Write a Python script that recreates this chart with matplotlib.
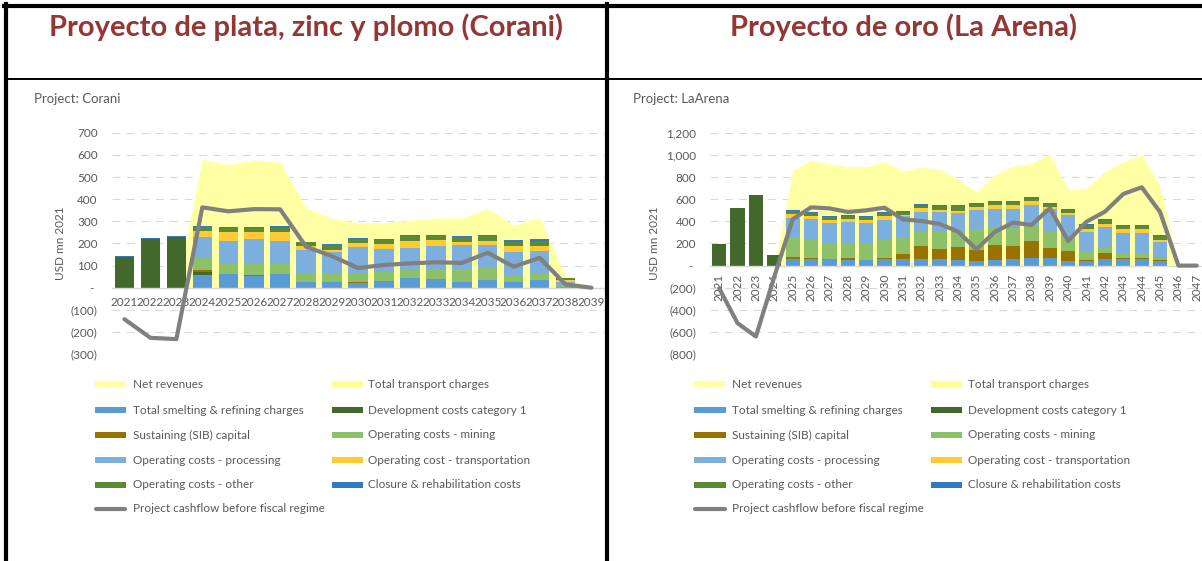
import numpy as np
import matplotlib
matplotlib.use("Agg")
import matplotlib.pyplot as plt
from matplotlib.patches import Rectangle
from matplotlib.lines import Line2D

plt.rcParams['font.family'] = ['Lato', 'DejaVu Sans']

W, H = 1202, 561
GREY_TXT = '#595959'

# ---------------- data: Corani (USD mn 2021) ----------------
corani_years = list(range(2021, 2040))
corani_net_revenues = [0, 0, 0, 580, 556, 577, 566, 361, 313, 294, 292, 305, 315, 315, 358, 282, 318, 50, 0]
corani_transport_charges = [0, 0, 0, 0, 0, 0, 0, 0, 0, 0, 0, 0, 0, 0, 0, 0, 0, 0, 0]
corani_smelting = [0, 0, 0, 57, 60, 55, 62, 28, 25, 20, 30, 45, 38, 28, 35, 28, 35, 5, 0]
corani_development = [140, 222, 230, 12, 0, 0, 0, 0, 0, 0, 0, 0, 0, 0, 0, 0, 0, 0, 0]
corani_sustaining = [0, 0, 0, 11, 0, 3, 0, 0, 0, 5, 0, 0, 0, 0, 0, 0, 0, 0, 0]
corani_mining = [0, 0, 0, 55, 50, 52, 48, 37, 35, 40, 42, 35, 45, 57, 57, 30, 27, 5, 0]
corani_processing = [0, 0, 0, 92, 101, 110, 103, 107, 100, 120, 104, 100, 105, 108, 100, 104, 103, 15, 0]
corani_transportation = [0, 0, 0, 30, 39, 33, 40, 16, 12, 15, 20, 30, 27, 14, 21, 25, 25, 10, 0]
corani_other = [0, 0, 0, 16, 21, 17, 19, 17, 23, 20, 20, 22, 17, 21, 22, 18, 20, 7, 0]
corani_closure = [4, 4, 4, 6, 3, 5, 6, 3, 3, 3, 3, 5, 5, 5, 5, 10, 12, 4, 0]
corani_cashflow = [-142, -226, -232, 363, 345, 355, 354, 185, 143, 89, 103, 110, 115, 112, 158, 95, 135, 15, 0]
corani_yticks = [-300, -200, -100, 0, 100, 200, 300, 400, 500, 600, 700]

# ---------------- data: La Arena (USD mn 2021) ----------------
arena_years = list(range(2021, 2048))
arena_net_revenues = [0, 0, 0, 0, 863, 954, 917, 893, 893, 938, 854, 887, 869, 779, 668, 818, 899, 923,
                      1008, 683, 698, 848, 938, 999, 720, 0, 0]
arena_transport_charges = [0, 0, 0, 0, 0, 0, 0, 0, 0, 0, 0, 0, 0, 0, 0, 0, 0, 0, 0, 0, 0, 0, 0, 0, 0, 0, 0]
arena_smelting = [0, 0, 0, 0, 57, 57, 57, 54, 51, 57, 57, 57, 60, 51, 42, 54, 57, 66, 72, 45, 45, 57, 60, 60, 45, 0, 0]
arena_development = [198, 517, 635, 93, 0, 0, 0, 0, 0, 0, 0, 0, 0, 0, 0, 0, 0, 0, 0, 0, 0, 0, 0, 0, 0, 0, 0]
arena_sustaining = [0, 0, 0, 0, 24, 9, 6, 12, 0, 15, 45, 120, 90, 117, 103, 131, 121, 152, 85, 85, 9, 57, 6, 12, 9, 0, 0]
arena_mining = [0, 0, 0, 0, 175, 169, 133, 139, 145, 160, 154, 130, 155, 132, 185, 155, 162, 152, 150, 120,
                76, 51, 39, 38, 12, 0, 0]
arena_processing = [0, 0, 0, 0, 171, 183, 189, 186, 186, 180, 192, 177, 179, 175, 175, 175, 175, 180, 201, 205,
                    175, 180, 185, 180, 144, 0, 0]
arena_transportation = [0, 0, 0, 0, 39, 27, 27, 27, 27, 33, 12, 33, 21, 21, 25, 33, 33, 33, 19, 23, 25, 33, 40, 38, 25, 0, 0]
arena_other = [0, 0, 0, 0, 24, 30, 24, 27, 27, 27, 27, 24, 30, 39, 30, 27, 27, 27, 33, 27, 35, 32, 30, 32, 30, 0, 0]
arena_closure = [0, 0, 0, 0, 12, 9, 12, 10, 12, 9, 9, 15, 15, 10, 8, 8, 8, 10, 8, 10, 10, 8, 8, 8, 10, 0, 0]
arena_cashflow = [-205, -520, -640, -100, 418, 526, 517, 484, 499, 523, 418, 403, 376, 307, 147, 304, 388, 367,
                  517, 223, 397, 487, 647, 707, 484, 0, 0]
arena_yticks = [-800, -600, -400, -200, 0, 200, 400, 600, 800, 1000, 1200]

# legend labels (Excel row-major order) and colours
labels = ['Net revenues', 'Total transport charges', 'Total smelting & refining charges',
          'Development costs category 1', 'Sustaining (SIB) capital', 'Operating costs - mining',
          'Operating costs - processing', 'Operating cost - transportation', 'Operating costs - other',
          'Closure & rehabilitation costs', 'Project cashflow before fiscal regime']
colors = ['#FFFFA3', '#FFFF8F', '#5B9BD5', '#43682B', '#997300', '#8DC169',
          '#7DAFDE', '#FFCA33', '#5A8A38', '#3479BF', '#808080']


def fx(px):
    return px / W


def fy(py):
    return 1 - py / H


def fmt(v):
    if v == 0:
        return '- '
    if v < 0:
        return '({:,})'.format(-v)
    return '{:,}'.format(v)


def panel(fig, rect_px, years, net, transp, stacks, cashflow, yticks, width, rotate, pad):
    x0, y0, x1, y1 = rect_px
    ax = fig.add_axes([fx(x0), fy(y1), fx(x1 - x0), (y1 - y0) / H])
    # move the category axis to y=0 first (this resets the ticks)
    for s in ['top', 'right', 'left']:
        ax.spines[s].set_visible(False)
    ax.spines['bottom'].set_position(('data', 0))
    ax.spines['bottom'].set_color('#D9D9D9')
    ax.spines['bottom'].set_linewidth(1.0)
    ax.spines['bottom'].set_zorder(2.5)

    x = np.arange(len(years))
    net = np.array(net, float)
    ax.fill_between(x, 0, net, color=colors[0], lw=0, zorder=1)
    ax.fill_between(x, net, net + np.array(transp, float), color=colors[1], lw=0, zorder=1)
    bottom = np.zeros(len(years))
    for vals, c in zip(stacks, colors[2:10]):
        vals = np.array(vals, float)
        ax.bar(x, vals, width, bottom=bottom, color=c, lw=0, zorder=2)
        bottom += vals
    ax.plot(x, cashflow, color=colors[10], lw=3.0, zorder=3,
            solid_joinstyle='round', solid_capstyle='round')
    ax.set_xlim(-0.5, len(years) - 0.5)
    ax.set_ylim(yticks[0], yticks[-1])
    ax.set_yticks(yticks)
    ax.set_yticklabels([fmt(v) for v in yticks])
    ax.set_xticks(x)
    ax.set_xticklabels([str(y) for y in years])
    ax.tick_params(axis='both', length=0, colors=GREY_TXT, labelsize=8.5)
    ax.tick_params(axis='y', pad=10)
    ax.tick_params(axis='x', pad=pad, labelrotation=90 if rotate else 0)
    ax.yaxis.grid(True, color='#D9D9D9', lw=0.8, linestyle=(0, (7, 6)))
    ax.set_axisbelow(True)
    ax.patch.set_alpha(0)
    return ax


def legend(fig, col_px):
    rows = [384, 410, 435, 460, 485, 509]
    for i, (lab, c) in enumerate(zip(labels, colors)):
        r, k = divmod(i, 2)
        p0, p1, t = col_px[k]
        if i == 10:
            fig.add_artist(Line2D([fx(p0 + 1), fx(p1 - 1)], [fy(rows[r])] * 2, color=c, lw=3.0,
                                  solid_capstyle='round', transform=fig.transFigure))
        else:
            fig.add_artist(Rectangle((fx(p0), fy(rows[r] + 3.4)), fx(p1 - p0), 6.8 / H,
                                     color=c, lw=0, transform=fig.transFigure))
        fig.text(fx(t), fy(rows[r]), lab, fontsize=8.5, color=GREY_TXT, va='center', ha='left')


fig = plt.figure(figsize=(W / 100, H / 100), dpi=100)

panel(fig, (111.5, 132.7, 604.5, 354.2), corani_years, corani_net_revenues, corani_transport_charges,
      [corani_smelting, corani_development, corani_sustaining, corani_mining, corani_processing,
       corani_transportation, corani_other, corani_closure],
      corani_cashflow, corani_yticks, 0.75, False, 7)
panel(fig, (710, 132.7, 1206, 354.2), arena_years, arena_net_revenues, arena_transport_charges,
      [arena_smelting, arena_development, arena_sustaining, arena_mining, arena_processing,
       arena_transportation, arena_other, arena_closure],
      arena_cashflow, arena_yticks, 0.78, True, 6)

legend(fig, [(95, 126, 133), (332, 363, 368)])
legend(fig, [(694, 726, 732), (931, 962, 968)])

# titles and captions
fig.text(fx(306), fy(36), 'Proyecto de plata, zinc y plomo (Corani)', fontsize=21, fontweight='bold',
         color='#943634', ha='center', va='baseline')
fig.text(fx(903), fy(36), 'Proyecto de oro (La Arena)', fontsize=21, fontweight='bold',
         color='#943634', ha='center', va='baseline')
fig.text(fx(34), fy(99), 'Project: Corani', fontsize=9.5, color=GREY_TXT, va='center')
fig.text(fx(633), fy(99), 'Project: LaArena', fontsize=9.5, color=GREY_TXT, va='center')
fig.text(fx(60), fy(243), 'USD mn 2021', fontsize=8.5, color=GREY_TXT, rotation=90, ha='center', va='center')
fig.text(fx(655), fy(243), 'USD mn 2021', fontsize=8.5, color=GREY_TXT, rotation=90, ha='center', va='center')

# table frame
for (xa, ya, xb, yb, lw) in [(4, 6, 1202, 6, 3.0), (6, 79, 1202, 79, 1.4),
                             (6, 4, 6, 561, 3.0), (607, 4, 607, 561, 3.0)]:
    fig.add_artist(Line2D([fx(xa), fx(xb)], [fy(ya), fy(yb)], color='black', lw=lw,
                          transform=fig.transFigure))

fig.savefig('out.png', dpi=100)
